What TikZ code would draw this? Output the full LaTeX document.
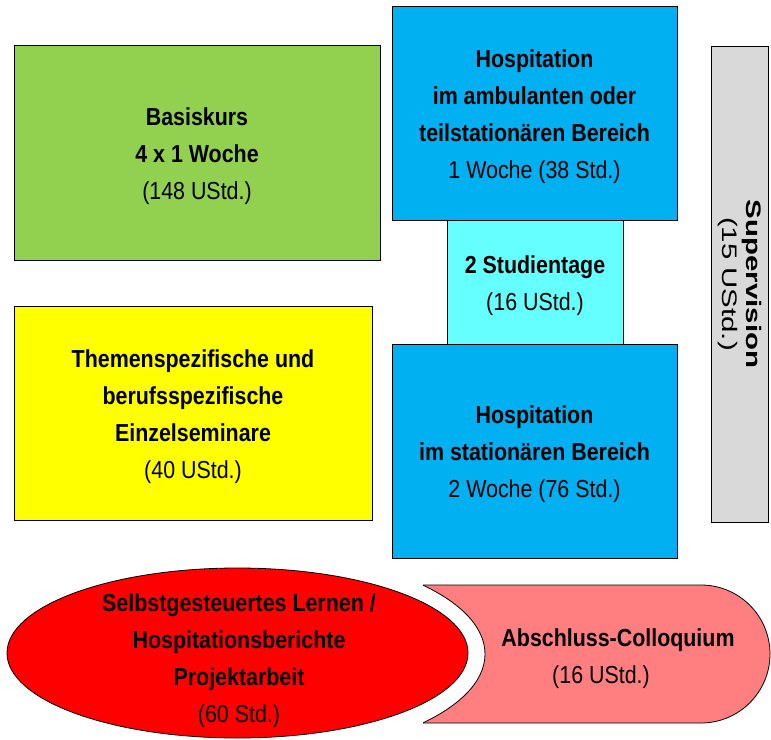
\documentclass[tikz,border=0pt]{standalone}
\usepackage{fontspec}
\setmainfont{Liberation Sans}[FakeStretch=0.87]
\newfontfamily\supfont{Liberation Sans}[FakeStretch=1.4]
\usetikzlibrary{shapes.geometric}
\definecolor{cgreen}{HTML}{92D050}
\definecolor{cblue}{HTML}{00B0F0}
\definecolor{ccyan}{HTML}{66FFFF}
\definecolor{cyellow}{HTML}{FFFF00}
\definecolor{cgrey}{HTML}{D9D9D9}
\definecolor{cred}{HTML}{FF0000}
\definecolor{cpink}{HTML}{FF7F80}
\tikzset{
  box/.style={draw=black, line width=0.8pt, rectangle, inner sep=0pt},
  txt/.style={inner sep=0pt, align=center, font=\fontsize{24.6pt}{37pt}\selectfont},
  outl/.style={draw=black, line width=0.8pt}
}
\begin{document}
\begin{tikzpicture}[x=1pt,y=-1pt]
\useasboundingbox (0,0) rectangle (771,739);
% left boxes
\node[box, fill=cgreen, minimum width=366pt, minimum height=215pt] (basis) at (197,152.5) {};
\node[txt] (basistxt) at ([yshift=-4pt]basis.center)
  {\textbf{Basiskurs}\\\textbf{4 x 1 Woche}\\(148 UStd.)};
\node[box, fill=cyellow, minimum width=358pt, minimum height=214pt] (themen) at (193,413) {};
\node[txt] (thementxt) at ([yshift=-3.5pt]themen.center)
  {\textbf{Themenspezifische und}\\\textbf{berufsspezifische}\\\textbf{Einzelseminare}\\(40 UStd.)};
% middle column
\node[box, fill=ccyan, minimum width=176pt, minimum height=126pt] (studien) at (535,282) {};
\node[txt] (studientxt) at ([yshift=-4pt]studien.center)
  {\textbf{2 Studientage}\\(16 UStd.)};
\node[box, fill=cblue, minimum width=285pt, minimum height=214pt] (hosp1) at (534.5,113) {};
\node[txt] (hosp1txt) at ([yshift=-4pt]hosp1.center)
  {\textbf{Hospitation}\\\textbf{im ambulanten oder}\\\textbf{teilstationären Bereich}\\1 Woche (38 Std.)};
\node[box, fill=cblue, minimum width=285pt, minimum height=214pt] (hosp2) at (534.5,451) {};
\node[txt] (hosp2txt) at ([yshift=-3.5pt]hosp2.center)
  {\textbf{Hospitation}\\\textbf{im stationären Bereich}\\2 Woche (76 Std.)};
% supervision
\node[box, fill=cgrey, minimum width=57pt, minimum height=476pt] (superv) at (739.5,284) {};
\node[txt, rotate=-90, font=\supfont\fontsize{21pt}{24pt}\selectfont] (supervtxt) at (superv.center)
  {\textbf{Supervision}\\(15 UStd.)};
% Abschluss-Colloquium shape
\fill[cpink] (423,585) -- (701,585) arc[start angle=-90, end angle=90, radius=69] -- (423,723) -- cycle;
\begin{scope}
  \clip (400,570) rectangle (771,739);
  \fill[white] (237.5,654) ellipse[x radius=247.5, y radius=104];
\end{scope}
\draw[outl] (423,585) -- (701,585) arc[start angle=-90, end angle=90, radius=69] -- (423,723);
\begin{scope}
  \clip (423,585) rectangle (771,723);
  \draw[outl] (237.5,654) ellipse[x radius=247.5, y radius=104];
\end{scope}
\node[txt] (absch) at (618,659) {\textbf{Abschluss-Colloquium}\\(16 UStd.)\hspace*{34pt}};
% self-directed learning ellipse
\node[ellipse, draw=black, line width=0.8pt, fill=cred, minimum width=461pt, minimum height=170pt, inner sep=0pt] (selbst) at (237.5,653) {};
\node[txt] (selbsttxt) at (239,660.5)
  {\textbf{Selbstgesteuertes Lernen /}\\\textbf{Hospitationsberichte}\\\textbf{Projektarbeit}\\(60 Std.)};
\end{tikzpicture}
\end{document}
